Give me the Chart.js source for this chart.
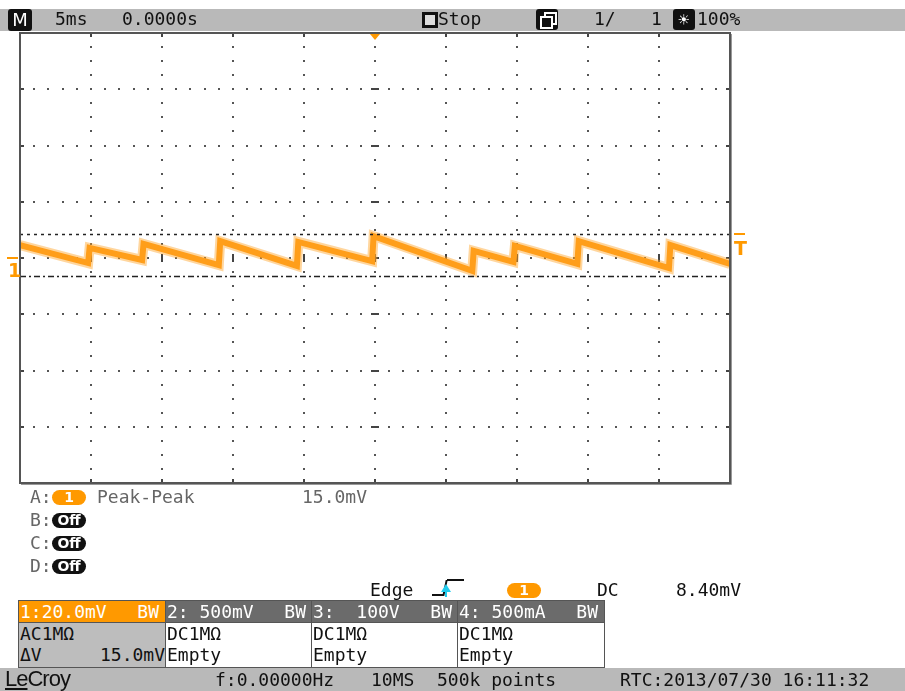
<!DOCTYPE html>
<html>
<head>
<meta charset="utf-8">
<script src="https://cdn.jsdelivr.net/npm/chart.js@4/dist/chart.umd.min.js"></script>
<style>
  body { margin: 0; background: #fff; }
  #scope { position: relative; width: 905px; height: 691px; overflow: hidden; font-family: 'DejaVu Sans Mono', monospace; font-size: 18px; color: #111; }
  #scope canvas { position: absolute; left: 0; top: 0; }
  .bar { position: absolute; left: 0; width: 905px; background: #b9b9b9; }
  .t { position: absolute; line-height: 20px; height: 20px; white-space: pre; }
  .g { color: #666; }
  .pill { position: absolute; width: 34px; height: 15px; border-radius: 8px; color: #fff; font-family: 'DejaVu Sans', sans-serif; font-weight: bold; font-size: 14px; line-height: 15px; text-align: center; }
  .icon { position: absolute; background: #111; border-radius: 3px; color: #fff; text-align: center; }
  .cell { position: absolute; box-sizing: border-box; border: 1px solid #555; }
  .cell .t { line-height: 22px; }
</style>
</head>
<body>
<div id="scope">
  <canvas id="chart" width="905" height="691"></canvas>

  <!-- top status bar -->
  <div class="bar" style="top:9px;height:22px;"></div>
  <div class="icon" style="left:8px;top:9px;width:24px;height:22px;line-height:22px;font-family:'DejaVu Sans';font-size:18px;">M</div>
  <div class="t" style="left:55px;top:9px;">5ms</div>
  <div class="t" style="left:122px;top:9px;">0.0000s</div>
  <div style="position:absolute;left:422px;top:12px;width:10px;height:10px;border:3px solid #111;background:#ddd;"></div>
  <div class="t" style="left:438px;top:9px;">Stop</div>
  <div class="icon" style="left:536px;top:9px;width:22px;height:21px;">
    <div style="position:absolute;left:8px;top:3px;width:9px;height:9px;border:2px solid #fff;"></div>
    <div style="position:absolute;left:4px;top:7px;width:9px;height:9px;border:2px solid #fff;background:#111;"></div>
  </div>
  <div class="t" style="left:594px;top:9px;">1/</div>
  <div class="t" style="left:651px;top:9px;">1</div>
  <div class="icon" style="left:673px;top:9px;width:22px;height:21px;line-height:21px;font-size:18px;">&#9728;</div>
  <div class="t" style="left:697px;top:9px;">100%</div>

  <!-- trace / trigger markers -->
  <div class="t" style="left:8px;top:260px;color:#ff9900;font-weight:bold;font-family:'DejaVu Sans';font-size:19px;">1</div>
  <div class="t" style="left:734px;top:238px;color:#ff9900;font-weight:bold;font-family:'DejaVu Sans';font-size:19px;">T</div>

  <!-- measurements -->
  <div class="t g" style="left:30px;top:487px;">A:</div>
  <div class="pill" style="left:52px;top:490px;background:#ff9900;">1</div>
  <div class="t g" style="left:97px;top:487px;">Peak-Peak</div>
  <div class="t g" style="left:302px;top:487px;">15.0mV</div>
  <div class="t g" style="left:30px;top:510px;">B:</div>
  <div class="pill" style="left:52px;top:513px;background:#111;">Off</div>
  <div class="t g" style="left:30px;top:533px;">C:</div>
  <div class="pill" style="left:52px;top:536px;background:#111;">Off</div>
  <div class="t g" style="left:30px;top:556px;">D:</div>
  <div class="pill" style="left:52px;top:559px;background:#111;">Off</div>

  <!-- trigger setup -->
  <div class="t" style="left:370px;top:580px;">Edge</div>
  <div style="position:absolute;left:432px;top:594px;width:12px;height:0;border-top:2px solid #111;"></div>
  <div style="position:absolute;left:444px;top:580px;width:2px;height:16px;background:#111;transform:skewX(-12deg);"></div>
  <div style="position:absolute;left:447px;top:579px;width:17px;height:0;border-top:2px solid #111;"></div>
  <div style="position:absolute;left:441px;top:584px;width:0;height:0;border-left:5px solid transparent;border-right:5px solid transparent;border-bottom:8px solid #22ccee;"></div>
  <div style="position:absolute;left:445px;top:591px;width:2px;height:6px;background:#22ccee;"></div>
  <div class="pill" style="left:507px;top:583px;background:#ff9900;">1</div>
  <div class="t" style="left:597px;top:580px;">DC</div>
  <div class="t" style="left:676px;top:580px;">8.40mV</div>

  <!-- channel table -->
  <div id="chTable"></div>

  <!-- bottom status bar -->
  <div class="bar" style="top:668px;height:23px;"></div>
  <div class="t" style="left:5px;top:669px;font-family:'Liberation Sans',sans-serif;font-size:22px;letter-spacing:-1px;color:#111;"><span style="text-decoration:underline;">Le</span>Croy</div>
  <div class="t" style="left:215px;top:670px;">f:0.00000Hz</div>
  <div class="t" style="left:371px;top:670px;">10MS</div>
  <div class="t" style="left:437px;top:670px;">500k points</div>
  <div class="t" style="left:620px;top:670px;">RTC:2013/07/30 16:11:32</div>
</div>

<script>
// time axis: 10 divisions x 5 ms, trigger at centre
const timeDivMs = 5;
const voltDivMv = 20;
const xTicksMs = [-25, -20, -15, -10, -5, 0, 5, 10, 15, 20, 25];
const yTicksMv = [-80, -60, -40, -20, 0, 20, 40, 60, 80];

// channel 1 sawtooth ripple, corners (ms, mV)
const traceTimes = [-25.0, -20.2, -20.1, -16.4, -16.3, -11.0, -10.9, -5.5, -5.4, -0.2, -0.1,
                    6.85, 6.95, 9.75, 9.85, 14.25, 14.35, 20.7, 20.8, 25.0];
const traceMv = [4.6, -1.8, 3.6, -0.7, 5.0, -2.5, 6.0, -2.8, 5.7, -1.1, 7.8,
                 -4.6, 2.5, -1.4, 4.3, -2.1, 6.0, -3.6, 4.6, -2.1];

// cursor / trigger levels (mV)
const triggerLevelMv = 8.4;
const lowerCursorMv = -6.6;

const channels = [
  { head: '1:20.0mV', coupling: 'AC1M\u03a9', info: '\u0394V', value: '15.0mV' },
  { head: '2: 500mV', coupling: 'DC1M\u03a9', info: 'Empty', value: '' },
  { head: '3:  100V', coupling: 'DC1M\u03a9', info: 'Empty', value: '' },
  { head: '4: 500mA', coupling: 'DC1M\u03a9', info: 'Empty', value: '' }
];

// build channel table
const tbl = document.getElementById('chTable');
const colLeft = [18, 165, 311, 457];
const colW = 147;
channels.forEach((ch, i) => {
  const first = i === 0;
  const x = colLeft[i];
  tbl.insertAdjacentHTML('beforeend',
    `<div class="cell" style="left:${x}px;top:600px;width:${colW + 1}px;height:23px;background:${first ? '#ff9900' : '#6b6b6b'};color:#fff;">
       <div class="t" style="left:1px;top:0px;">${ch.head}</div>
       <div class="t" style="right:6px;top:0px;">BW</div>
     </div>
     <div class="cell" style="left:${x}px;top:622px;width:${colW + 1}px;height:46px;background:${first ? '#bdbdbd' : '#fff'};">
       <div class="t" style="left:1px;top:0px;">${ch.coupling}</div>
       <div class="t" style="left:1px;top:21px;">${ch.info}</div>
       <div class="t" style="right:0px;top:21px;">${ch.value}</div>
     </div>`);
});

const gridPlugin = {
  id: 'scopeGrid',
  beforeDatasetsDraw(chart) {
    const { ctx, chartArea: a, scales: { x, y } } = chart;
    ctx.save();
    ctx.fillStyle = '#fff';
    ctx.fillRect(a.left, a.top, a.right - a.left, a.bottom - a.top);
    ctx.fillStyle = '#555';
    const dot = (px, py) => ctx.fillRect(Math.round(px) - 1, Math.round(py) - 1, 2, 2);
    // vertical dotted lines
    xTicksMs.slice(1, -1).forEach(t => {
      const px = x.getPixelForValue(t);
      for (let v = -80; v <= 80; v += voltDivMv / 4) dot(px, y.getPixelForValue(v));
    });
    // horizontal dotted lines
    yTicksMv.slice(1, -1).forEach(v => {
      const py = y.getPixelForValue(v);
      for (let t = -25; t <= 25; t += timeDivMs / 5) dot(x.getPixelForValue(t), py);
    });
    // centre axis ticks
    ctx.fillStyle = '#444';
    const y0 = y.getPixelForValue(0), x0 = x.getPixelForValue(0);
    xTicksMs.slice(1, -1).forEach(t => ctx.fillRect(Math.round(x.getPixelForValue(t)) - 1, y0 - 4, 2, 8));
    yTicksMv.slice(1, -1).forEach(v => ctx.fillRect(x0 - 4, Math.round(y.getPixelForValue(v)) - 1, 8, 2));
    // border ticks
    xTicksMs.slice(1, -1).forEach(t => {
      const px = Math.round(x.getPixelForValue(t)) - 1;
      ctx.fillRect(px, a.top, 2, 4);
      ctx.fillRect(px, a.bottom - 4, 2, 4);
    });
    yTicksMv.slice(1, -1).forEach(v => {
      const py = Math.round(y.getPixelForValue(v)) - 1;
      ctx.fillRect(a.left, py, 4, 2);
      ctx.fillRect(a.right - 4, py, 4, 2);
    });
    ctx.restore();
  },
  afterDatasetsDraw(chart) {
    const { ctx, chartArea: a, scales: { x, y } } = chart;
    ctx.save();
    // frame
    ctx.strokeStyle = '#555';
    ctx.lineWidth = 2;
    ctx.strokeRect(a.left, a.top, a.right - a.left, a.bottom - a.top);
    ctx.strokeStyle = '#999';
    ctx.lineWidth = 1;
    ctx.beginPath();
    ctx.moveTo(a.right + 1.5, a.top + 1);
    ctx.lineTo(a.right + 1.5, a.bottom + 1.5);
    ctx.lineTo(a.left + 1, a.bottom + 1.5);
    ctx.stroke();
    // trigger position marker
    const tx = x.getPixelForValue(0);
    ctx.fillStyle = '#ff9900';
    ctx.beginPath();
    ctx.moveTo(tx - 5, a.top + 1);
    ctx.lineTo(tx + 5, a.top + 1);
    ctx.lineTo(tx, a.top + 7);
    ctx.closePath();
    ctx.fill();
    // ground marker and trigger level marker
    ctx.fillRect(7, Math.round(y.getPixelForValue(0)) - 1, 11, 2);
    ctx.fillRect(a.right + 4, Math.round(y.getPixelForValue(triggerLevelMv)) - 1, 11, 2);
    ctx.restore();
  }
};

const tracePoints = traceTimes.map((t, i) => ({ x: t, y: traceMv[i] }));
const levelLine = v => [{ x: xTicksMs[0], y: v }, { x: xTicksMs[xTicksMs.length - 1], y: v }];

new Chart(document.getElementById('chart'), {
  type: 'line',
  data: {
    datasets: [
      {
        label: 'Trigger level',
        data: levelLine(triggerLevelMv),
        borderColor: '#222',
        borderWidth: 1.5,
        borderDash: [3, 4],
        pointRadius: 0
      },
      {
        label: 'Cursor',
        data: levelLine(lowerCursorMv),
        borderColor: '#222',
        borderWidth: 1.5,
        borderDash: [6, 3, 2, 3],
        pointRadius: 0
      },
      {
        // persistence halo around the trace
        label: 'C1 halo',
        data: tracePoints,
        borderColor: 'rgba(255, 165, 40, 0.45)',
        borderWidth: 10,
        pointRadius: 0,
        tension: 0
      },
      {
        label: 'C1',
        data: tracePoints,
        borderColor: '#ff9a10',
        borderWidth: 6,
        pointRadius: 0,
        tension: 0,
        borderJoinStyle: 'miter'
      }
    ]
  },
  options: {
    responsive: false,
    animation: false,
    events: [],
    layout: { padding: { left: 20, top: 33, right: 175, bottom: 208 } },
    scales: {
      x: { type: 'linear', min: -25, max: 25, display: false },
      y: { type: 'linear', min: -80, max: 80, display: false }
    },
    plugins: { legend: { display: false }, tooltip: { enabled: false } }
  },
  plugins: [gridPlugin]
});
</script>
</body>
</html>
